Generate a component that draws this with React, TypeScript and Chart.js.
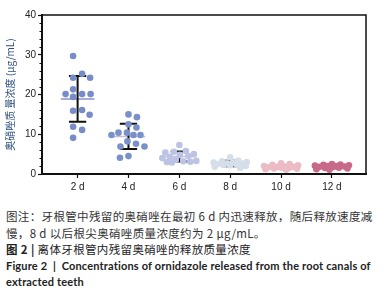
import React, { useEffect, useRef } from "react";
import { Chart, registerables } from "chart.js";

Chart.register(...registerables);

// ---------- data ----------
const categories = ["2 d", "4 d", "6 d", "8 d", "10 d", "12 d"];
const day2 = [29.7, 25.2, 24.2, 24.2, 21.3, 20.1, 20.1, 20.1, 19.4, 16.1, 15.9, 14.9, 11.9, 11.1, 9.1];
const day4 = [15.0, 14.3, 12.5, 11.7, 10.4, 10.4, 9.8, 9.8, 9.8, 8.2, 7.6, 6.9, 6.9, 4.5, 4.1];
const day6 = [7.3, 5.8, 5.6, 5.4, 5.0, 4.8, 4.5, 4.3, 4.0, 3.6, 3.3, 3.2, 3.1, 3.0, 2.9];
const day8 = [4.2, 3.4, 3.2, 3.0, 2.9, 2.8, 2.7, 2.6, 2.5, 2.4, 2.3, 2.2, 2.0, 1.8, 1.5];
const day10 = [2.7, 2.5, 2.3, 2.2, 2.0, 1.9, 1.8, 1.8, 1.7, 1.6, 1.5, 1.4, 1.3, 1.2, 1.1];
const day12 = [2.5, 2.4, 2.3, 2.2, 2.1, 2.0, 2.0, 1.9, 1.8, 1.7, 1.6, 1.5, 1.4, 1.2, 1.1];
const groups = [day2, day4, day6, day8, day10, day12];
const pointColors = ["#788dc8", "#7a90ca", "#bcc3e4", "#d6dee9", "#ebbcc6", "#c8698a"];
const meanColors = ["#8f8fce", "#c6bcd9", "#d5bfd0", "#d993a6", "#c98095", "#a94f6d"];
const yTicks = [0, 10, 20, 30, 40];
const yTitle = "奥硝唑质 量浓度 (μg/mL)";

// ---------- helpers ----------
const mean = (a: number[]) => a.reduce((s, v) => s + v, 0) / a.length;
const sd = (a: number[]) => {
  const m = mean(a);
  return Math.sqrt(a.reduce((s, v) => s + (v - m) * (v - m), 0) / (a.length - 1));
};

// beeswarm-style horizontal spreading (approximate px scales)
function swarm(values: number[], pxX: number, pxY: number, D: number, M: number, gap: number): number[] {
  const order = values.map((_, i) => i).sort((a, b) => values[b] - values[a]);
  const placed: { x: number; y: number }[] = [];
  const offs = new Array(values.length).fill(0);
  const cands: number[] = gap > 0 ? [] : [0];
  for (let s = gap > 0 ? gap : 0.5; s <= M; s += 0.5) cands.push(s, -s);
  order.forEach((i, k) => {
    const y = values[i] * pxY;
    let chosen: number | null = null;
    let best = -1;
    let bestO = 0;
    for (const c of cands) {
      const o = k % 2 === 0 ? -c : c;
      let md = Infinity;
      for (const p of placed) {
        const d = Math.hypot(o - p.x, y - p.y);
        if (d < md) md = d;
      }
      if (md >= D) {
        chosen = o;
        break;
      }
      if (md > best) {
        best = md;
        bestO = o;
      }
    }
    const o = chosen ?? bestO;
    placed.push({ x: o, y });
    offs[i] = o / pxX;
  });
  return offs;
}

export default function App() {
  const ref = useRef<HTMLCanvasElement>(null);

  useEffect(() => {
    if (!ref.current) return;
    const pxX = 50.86;
    const pxY = 3.99;
    const D = 8.5;
    const datasets = groups.map((vals, gi) => {
      const barSpan = 2 * sd(vals) * pxY;
      const offs = swarm(vals, pxX, pxY, D, 17, barSpan > 3 * D ? 4.5 : 0);
      return {
        type: "scatter" as const,
        label: categories[gi],
        data: vals.map((v, i) => ({ x: gi + offs[i], y: v })),
        backgroundColor: pointColors[gi],
        borderColor: pointColors[gi],
        borderWidth: 0,
        pointRadius: 3.3,
        pointHoverRadius: 3.3,
      };
    });

    const overlay = {
      id: "overlay",
      beforeDatasetsDraw(chart: any) {
        const { ctx, scales } = chart;
        const xs = scales.x;
        const ys = scales.y;
        ctx.save();
        groups.forEach((vals, gi) => {
          const m = mean(vals);
          const s = sd(vals);
          const yM = ys.getPixelForValue(m);
          ctx.strokeStyle = meanColors[gi];
          ctx.lineWidth = 1.5;
          ctx.beginPath();
          ctx.moveTo(xs.getPixelForValue(gi - 0.33), yM);
          ctx.lineTo(xs.getPixelForValue(gi + 0.33), yM);
          ctx.stroke();
          const yT = ys.getPixelForValue(m + s);
          const yB = ys.getPixelForValue(Math.max(0, m - s));
          const xc = xs.getPixelForValue(gi);
          const xl = xs.getPixelForValue(gi - 0.17);
          const xr = xs.getPixelForValue(gi + 0.17);
          ctx.strokeStyle = "#111";
          ctx.lineWidth = 2;
          ctx.beginPath();
          ctx.moveTo(xc, yT);
          ctx.lineTo(xc, yB);
          ctx.moveTo(xl, yT);
          ctx.lineTo(xr, yT);
          ctx.moveTo(xl, yB);
          ctx.lineTo(xr, yB);
          ctx.stroke();
        });
        ctx.restore();
      },
      afterDatasetsDraw(chart: any) {
        const { ctx, chartArea, scales } = chart;
        const ys = scales.y;
        ctx.save();
        ctx.strokeStyle = "#111";
        ctx.lineWidth = 1.5;
        ctx.beginPath();
        ctx.moveTo(chartArea.left, chartArea.top);
        ctx.lineTo(chartArea.right, chartArea.top);
        ctx.lineTo(chartArea.right, chartArea.bottom);
        ctx.stroke();
        ctx.lineWidth = 1;
        ctx.beginPath();
        for (let v = 0; v <= 40; v += 2) {
          if (yTicks.includes(v)) continue;
          const y = Math.round(ys.getPixelForValue(v)) + 0.5;
          ctx.moveTo(chartArea.left - 2.5, y);
          ctx.lineTo(chartArea.left, y);
        }
        ctx.stroke();
        ctx.restore();
      },
    };

    const chart = new Chart(ref.current, {
      type: "scatter",
      data: { datasets },
      plugins: [overlay],
      options: {
        animation: false,
        responsive: false,
        maintainAspectRatio: false,
        events: [],
        layout: { padding: { left: 0, top: 15, right: 19, bottom: 0 } },
        plugins: { legend: { display: false }, tooltip: { enabled: false } },
        scales: {
          x: {
            type: "linear",
            min: -0.7,
            max: 5.67,
            afterBuildTicks: (axis: any) => {
              axis.ticks = categories.map((_, i) => ({ value: i }));
            },
            afterFit: (axis: any) => {
              axis.height = 21;
            },
            ticks: {
              callback: (v: any) => categories[v as number] ?? "",
              color: "#222",
              font: { family: "Liberation Sans", size: 10 },
              padding: 3,
              maxRotation: 0,
              autoSkip: false,
            },
            grid: { display: true, drawOnChartArea: false, tickLength: 4, tickColor: "#111", tickWidth: 1.2 },
            border: { display: true, color: "#111", width: 2 },
          },
          y: {
            type: "linear",
            min: 0,
            max: 40,
            afterBuildTicks: (axis: any) => {
              axis.ticks = yTicks.map((v) => ({ value: v }));
            },
            afterFit: (axis: any) => {
              axis.width = 42;
            },
            ticks: {
              color: "#222",
              font: { family: "Liberation Sans", size: 10 },
              padding: 2,
            },
            grid: { display: true, drawOnChartArea: false, tickLength: 4, tickColor: "#111", tickWidth: 1.2 },
            border: { display: true, color: "#111", width: 2 },
            title: {
              display: true,
              text: yTitle,
              color: "#2c4d7e",
              font: { family: "Noto Sans CJK SC", size: 10 },
              padding: { top: 4, bottom: 0 },
            },
          },
        },
      },
    } as any);
    return () => chart.destroy();
  }, []);

  return (
    <div style={{ position: "absolute", left: 0, top: 0, width: 385, height: 295, background: "#fff", overflow: "hidden" }}>
      <canvas ref={ref} width={385} height={195} style={{ display: "block", width: 385, height: 195 }} />
      <div
        style={{
          position: "absolute",
          left: 6,
          top: 208,
          width: 378,
          fontFamily: '"Noto Sans CJK SC", sans-serif',
          fontSize: 11.5,
          lineHeight: "16.5px",
          color: "#333",
          whiteSpace: "nowrap",
          letterSpacing: "0.35px",
        }}
      >
        <div>图注：牙根管中残留的奥硝唑在最初 6 d 内迅速释放，随后释放速度减</div>
        <div>慢，8 d 以后根尖奥硝唑质量浓度约为 2 μg/mL。</div>
        <div style={{ color: "#222" }}>
          <b>图 2</b> <span style={{ fontWeight: 700 }}>|</span> 离体牙根管内残留奥硝唑的释放质量浓度
        </div>
        <div style={{ fontFamily: "Lato, sans-serif", fontWeight: 700, fontSize: 11, color: "#222", letterSpacing: "0.17px" }}>
          Figure 2&nbsp;&nbsp;|&nbsp;&nbsp;Concentrations of ornidazole released from the root canals of
        </div>
        <div style={{ fontFamily: "Lato, sans-serif", fontWeight: 700, fontSize: 11, color: "#222", letterSpacing: "0.17px" }}>
          extracted teeth
        </div>
      </div>
    </div>
  );
}
